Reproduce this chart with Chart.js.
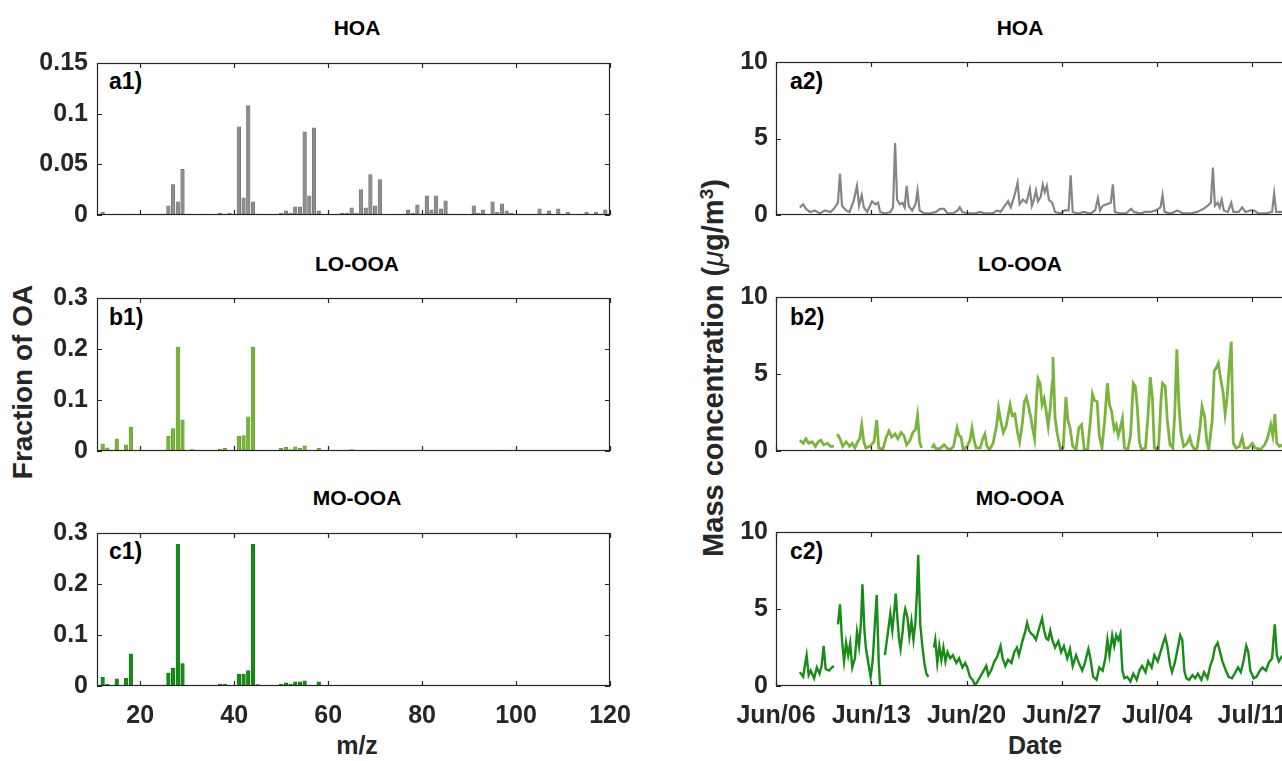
<!DOCTYPE html>
<html>
<head>
<meta charset="utf-8">
<script src="https://cdn.jsdelivr.net/npm/chart.js@4"></script>
<style>
  html, body { margin: 0; padding: 0; background: #fff; overflow: hidden; }
  body { width: 1282px; height: 761px; position: relative; font-family: "Liberation Sans", Arial, sans-serif; }
  canvas { position: absolute; }
  .txt { position: absolute; font-weight: bold; color: #000; white-space: nowrap; transform: translate(-50%, -50%); }
  .title { font-size: 21px; }
  .tag { font-size: 23px; transform: translate(0, -50%); }
  .axlab { font-size: 25px; color: #262626; }
  .rot { transform: translate(-50%, -50%) rotate(-90deg); font-size: 28px; }
</style>
</head>
<body>

<div class="txt title" style="left:357px; top:28px">HOA</div>
<div class="txt title" style="left:357px; top:264px">LO-OOA</div>
<div class="txt title" style="left:357px; top:498px">MO-OOA</div>
<div class="txt title" style="left:1020px; top:28px">HOA</div>
<div class="txt title" style="left:1020px; top:264px">LO-OOA</div>
<div class="txt title" style="left:1020px; top:498px">MO-OOA</div>

<div class="txt tag" style="left:109px; top:81px">a1)</div>
<div class="txt tag" style="left:109px; top:317px">b1)</div>
<div class="txt tag" style="left:109px; top:551px">c1)</div>
<div class="txt tag" style="left:790px; top:81px">a2)</div>
<div class="txt tag" style="left:790px; top:317px">b2)</div>
<div class="txt tag" style="left:790px; top:551px">c2)</div>

<div class="txt axlab rot" style="left:23px; top:382px">Fraction of OA</div>
<div class="txt axlab rot" style="left:713px; top:368px; font-size:29px">Mass concentration (<i style="font-weight:normal">&mu;</i>g/m<sup style="font-size:19px">3</sup>)</div>
<div class="txt axlab" style="left:357px; top:745px">m/z</div>
<div class="txt axlab" style="left:1035px; top:745px">Date</div>

<canvas id="a1"></canvas>
<canvas id="b1"></canvas>
<canvas id="c1"></canvas>
<canvas id="a2"></canvas>
<canvas id="b2"></canvas>
<canvas id="c2"></canvas>

<script>
// ---- mass spectra (fraction of OA per m/z) ----
const hoaMz   = [12, 15, 18, 25, 26, 27, 28, 29, 30, 31, 36, 37, 38, 39, 41, 42, 43, 44, 45, 50, 51, 52, 53, 54, 55, 56, 57, 58, 60, 62, 63, 64, 65, 66, 67, 68, 69, 70, 71, 72, 77, 78, 79, 80, 81, 82, 83, 84, 85, 86, 91, 92, 93, 95, 96, 97, 98, 99, 105, 107, 109, 111, 115, 117, 119];
const hoaFrac = [0.003, 0.001, 0.001, 0.001, 0.009, 0.030, 0.013, 0.045, 0.001, 0.001, 0.001, 0.002, 0.001, 0.002, 0.087, 0.017, 0.108, 0.013, 0.001, 0.002, 0.004, 0.002, 0.008, 0.008, 0.082, 0.019, 0.086, 0.004, 0.001, 0.001, 0.002, 0.002, 0.007, 0.002, 0.025, 0.007, 0.040, 0.009, 0.035, 0.001, 0.005, 0.002, 0.010, 0.001, 0.019, 0.005, 0.019, 0.006, 0.014, 0.001, 0.009, 0.002, 0.005, 0.013, 0.003, 0.011, 0.004, 0.002, 0.006, 0.004, 0.006, 0.003, 0.003, 0.003, 0.005];

const looMz   = [12, 13, 15, 17, 18, 25, 26, 27, 28, 29, 31, 37, 38, 41, 42, 43, 44, 45, 50, 51, 52, 53, 54, 55, 56, 58, 64, 65, 67, 69, 77, 79, 80, 95, 97];
const looFrac = [0.014, 0.006, 0.024, 0.012, 0.047, 0.002, 0.029, 0.044, 0.204, 0.061, 0.003, 0.004, 0.005, 0.029, 0.030, 0.067, 0.204, 0.002, 0.005, 0.007, 0.003, 0.008, 0.005, 0.010, 0.002, 0.005, 0.002, 0.003, 0.002, 0.002, 0.002, 0.002, 0.002, 0.001, 0.002];

const mooMz   = [12, 13, 15, 17, 18, 25, 26, 27, 28, 29, 31, 37, 38, 41, 42, 43, 44, 45, 50, 51, 52, 53, 54, 55, 58, 64, 65, 67, 81, 96];
const mooFrac = [0.017, 0.004, 0.014, 0.015, 0.063, 0.002, 0.026, 0.035, 0.278, 0.044, 0.002, 0.004, 0.004, 0.023, 0.023, 0.030, 0.278, 0.003, 0.004, 0.006, 0.004, 0.008, 0.008, 0.010, 0.008, 0.002, 0.002, 0.001, 0.001, 0.001];

const mzTicks = [20, 40, 60, 80, 100, 120];

// ---- time series: [days since Jun/06, concentration in ug/m3], null = no data ----
const hoaSeries = [[1.75,0.5],[2.0,0.7],[2.2,0.4],[2.5,0.2],[2.85,0.3],[3.2,0.1],[3.6,0.3],[4.0,0.2],[4.25,0.4],[4.55,0.8],[4.7,2.7],[4.85,0.6],[5.15,0.3],[5.4,0.2],[5.7,0.9],[5.95,1.9],[6.1,0.6],[6.3,1.3],[6.45,0.5],[6.7,0.2],[7.05,0.9],[7.3,0.7],[7.5,0.8],[7.65,0.2],[8.0,0.1],[8.4,0.2],[8.6,0.5],[8.75,4.7],[8.9,1.0],[9.1,0.7],[9.3,0.8],[9.45,0.5],[9.6,1.9],[9.75,0.6],[10.0,0.3],[10.25,0.7],[10.4,1.6],[10.55,0.3],[10.9,0.1],[11.3,0.1],[11.75,0.2],[12.05,0.4],[12.35,0.4],[12.6,0.1],[13.0,0.1],[13.35,0.3],[13.5,0.5],[13.7,0.2],[14.1,0.1],[14.6,0.1],[15.0,0.2],[15.4,0.1],[15.9,0.1],[16.25,0.3],[16.5,0.2],[16.8,0.6],[17.05,0.9],[17.25,0.5],[17.5,1.2],[17.75,2.1],[17.9,0.7],[18.15,1.0],[18.4,0.8],[18.65,1.7],[18.8,0.6],[18.95,1.0],[19.1,1.6],[19.25,0.9],[19.45,1.2],[19.6,2.0],[19.75,1.5],[19.9,1.9],[20.05,1.0],[20.3,0.8],[20.5,0.2],[20.9,0.1],[21.2,0.3],[21.5,0.3],[21.65,2.6],[21.8,0.2],[22.2,0.1],[22.6,0.2],[23.1,0.1],[23.45,0.3],[23.65,1.1],[23.8,0.3],[24.0,0.6],[24.3,0.7],[24.6,0.8],[24.75,2.0],[24.9,0.2],[25.3,0.1],[25.7,0.1],[26.1,0.4],[26.3,0.2],[26.8,0.1],[27.1,0.2],[27.5,0.2],[27.9,0.3],[28.25,0.5],[28.4,1.3],[28.55,0.2],[29.0,0.1],[29.5,0.3],[29.9,0.1],[30.4,0.1],[30.95,0.2],[31.4,0.4],[31.7,0.6],[31.95,0.8],[32.1,3.1],[32.25,0.6],[32.45,0.8],[32.6,0.5],[32.75,1.0],[32.9,0.3],[33.2,0.2],[33.45,0.8],[33.6,0.2],[34.0,0.2],[34.25,0.5],[34.5,0.2],[34.85,0.3],[35.1,0.3],[35.45,0.1],[35.95,0.1],[36.45,0.2],[36.6,1.4],[36.75,0.2],[37.2,0.2],[37.8,0.3]];

const looSeries = [[1.75,0.7],[2.0,0.5],[2.2,0.8],[2.4,0.5],[2.65,0.6],[2.9,0.3],[3.1,0.6],[3.3,0.7],[3.5,0.4],[3.8,0.5],[4.0,0.3],[4.25,0.3],[4.4,null],[4.5,1.1],[4.7,0.8],[4.9,0.3],[5.15,0.6],[5.4,0.3],[5.6,0.5],[5.8,0.2],[6.0,0.6],[6.15,0.8],[6.3,1.7],[6.45,0.6],[6.6,0.2],[6.9,0.3],[7.2,0.6],[7.4,2.0],[7.55,0.2],[7.85,0.1],[8.1,0.9],[8.3,1.3],[8.5,0.9],[8.75,1.1],[8.95,0.8],[9.2,1.2],[9.4,1.0],[9.6,0.4],[9.85,0.7],[10.05,1.2],[10.25,1.4],[10.4,2.3],[10.55,0.6],[10.7,0.2],[11.0,null],[11.45,0.2],[11.6,0.4],[11.8,0.1],[12.1,0.2],[12.35,0.4],[12.55,0.2],[12.8,0.1],[13.05,0.3],[13.3,1.5],[13.45,1.0],[13.6,0.9],[13.75,0.1],[14.05,0.3],[14.25,0.7],[14.4,1.5],[14.55,0.7],[14.7,0.2],[15.0,0.2],[15.2,0.8],[15.35,1.1],[15.5,0.3],[15.7,0.1],[15.95,0.5],[16.2,1.6],[16.35,2.8],[16.5,2.0],[16.7,1.2],[16.9,1.6],[17.05,2.3],[17.2,3.0],[17.35,2.3],[17.55,2.4],[17.75,1.2],[17.9,0.6],[18.1,1.8],[18.25,3.2],[18.4,3.5],[18.55,2.9],[18.7,2.3],[18.85,1.5],[19.0,0.8],[19.15,3.5],[19.25,4.7],[19.4,4.4],[19.55,3.0],[19.7,3.4],[19.85,2.6],[20.0,1.6],[20.15,2.8],[20.3,4.5],[20.35,6.1],[20.5,2.2],[20.65,1.2],[20.9,0.1],[21.1,0.2],[21.3,3.5],[21.45,2.0],[21.6,1.5],[21.8,0.3],[22.05,0.1],[22.25,1.5],[22.45,1.7],[22.65,0.1],[22.9,0.1],[23.1,2.0],[23.25,3.7],[23.4,3.3],[23.6,3.2],[23.75,1.0],[23.95,0.2],[24.15,2.0],[24.35,4.4],[24.5,3.0],[24.65,2.6],[24.85,1.4],[25.0,1.7],[25.15,1.0],[25.3,1.5],[25.45,2.1],[25.6,0.2],[25.85,0.1],[26.05,1.0],[26.25,4.4],[26.4,4.2],[26.55,2.8],[26.7,0.6],[26.85,0.1],[27.15,0.2],[27.35,2.5],[27.5,4.8],[27.65,3.5],[27.8,0.2],[28.1,0.1],[28.3,3.5],[28.4,4.4],[28.6,4.2],[28.75,2.0],[28.95,0.4],[29.15,0.2],[29.3,2.5],[29.45,6.6],[29.6,3.0],[29.75,1.2],[29.95,0.3],[30.2,0.5],[30.4,0.9],[30.55,0.4],[30.75,0.1],[30.95,0.2],[31.15,1.5],[31.3,2.9],[31.5,2.2],[31.65,0.6],[31.8,0.1],[32.05,2.0],[32.2,5.2],[32.35,5.4],[32.5,5.7],[32.65,4.8],[32.85,3.8],[33.0,2.4],[33.15,3.5],[33.3,5.5],[33.45,7.1],[33.6,0.5],[33.8,0.2],[34.05,0.3],[34.25,0.9],[34.4,0.2],[34.7,0.2],[35.0,0.5],[35.2,0.2],[35.6,0.1],[35.9,0.4],[36.1,0.8],[36.35,1.7],[36.5,1.0],[36.65,2.4],[36.8,0.5],[37.0,0.3],[37.4,0.5],[37.8,0.4]];

const mooSeries = [[1.75,0.9],[2.0,0.6],[2.1,1.2],[2.25,2.0],[2.4,0.7],[2.55,1.0],[2.8,0.5],[3.0,1.2],[3.2,0.8],[3.35,1.3],[3.5,2.6],[3.65,1.1],[3.9,1.0],[4.1,1.2],[4.25,1.3],[4.4,null],[4.55,4.0],[4.7,5.3],[4.85,3.0],[5.0,1.6],[5.15,2.8],[5.3,2.0],[5.45,2.8],[5.6,1.2],[5.8,1.8],[5.95,3.5],[6.1,2.6],[6.25,4.2],[6.35,6.6],[6.5,3.6],[6.6,2.5],[6.8,1.4],[6.95,0.6],[7.1,1.6],[7.25,3.8],[7.4,5.9],[7.55,1.5],[7.65,0.0],[7.8,null],[8.0,2.0],[8.15,3.0],[8.3,4.0],[8.4,4.7],[8.55,3.6],[8.7,5.0],[8.8,6.0],[8.95,4.0],[9.05,3.0],[9.15,2.4],[9.3,3.5],[9.4,4.5],[9.5,5.0],[9.65,4.5],[9.8,3.2],[9.95,4.2],[10.1,3.0],[10.25,4.2],[10.35,6.0],[10.45,8.5],[10.6,4.0],[10.75,2.6],[10.9,1.5],[11.05,0.8],[11.2,0.6],[11.4,null],[11.6,2.5],[11.7,3.0],[11.85,1.5],[12.0,2.6],[12.15,1.7],[12.3,2.5],[12.45,1.6],[12.6,2.2],[12.8,1.8],[13.0,2.0],[13.25,1.5],[13.45,1.8],[13.7,1.2],[13.9,1.5],[14.05,1.2],[14.25,0.6],[14.45,0.4],[14.6,0.1],[14.75,0.2],[15.0,0.6],[15.2,0.9],[15.45,1.3],[15.6,0.7],[15.8,1.0],[16.05,1.6],[16.25,1.9],[16.5,2.6],[16.65,1.8],[16.85,1.3],[17.05,1.7],[17.3,1.5],[17.5,2.2],[17.7,2.5],[17.85,2.0],[18.1,2.9],[18.3,3.5],[18.45,4.1],[18.6,3.6],[18.75,3.4],[18.9,3.3],[19.1,3.0],[19.35,3.8],[19.55,4.4],[19.7,3.6],[19.85,3.1],[20.0,3.0],[20.15,3.6],[20.3,3.0],[20.5,2.5],[20.75,2.9],[20.95,2.2],[21.15,2.6],[21.4,1.8],[21.6,2.4],[21.8,1.3],[22.05,2.0],[22.25,1.5],[22.5,1.0],[22.7,1.5],[22.95,2.4],[23.1,1.8],[23.3,0.6],[23.55,0.4],[23.75,1.2],[24.0,1.0],[24.2,1.8],[24.35,3.0],[24.5,2.0],[24.7,3.3],[24.85,2.6],[25.0,3.3],[25.15,3.0],[25.3,3.4],[25.45,1.0],[25.6,0.5],[25.8,0.6],[26.05,0.3],[26.25,0.8],[26.5,0.4],[26.7,1.0],[26.9,1.3],[27.15,0.9],[27.35,1.6],[27.6,1.2],[27.8,2.0],[28.05,1.6],[28.25,2.2],[28.45,2.8],[28.6,3.2],[28.75,2.6],[28.95,1.4],[29.1,0.9],[29.3,1.5],[29.55,2.6],[29.7,3.3],[29.85,3.0],[30.0,1.0],[30.15,0.5],[30.35,0.4],[30.6,0.7],[30.8,0.5],[31.0,0.8],[31.25,0.4],[31.45,0.9],[31.7,0.5],[31.9,1.3],[32.1,1.8],[32.25,2.5],[32.45,2.8],[32.6,2.3],[32.8,1.6],[33.05,1.0],[33.25,0.6],[33.5,0.5],[33.7,0.8],[33.95,1.2],[34.15,0.9],[34.35,1.6],[34.55,2.6],[34.7,2.2],[34.85,1.0],[35.1,0.5],[35.3,0.6],[35.55,1.0],[35.75,1.2],[36.0,1.0],[36.2,1.5],[36.45,1.8],[36.55,3.0],[36.65,4.0],[36.8,2.0],[36.95,1.6],[37.15,1.9],[37.5,2.2],[37.85,1.8]];

const dateTicks  = [0, 7, 14, 21, 28, 35];
const dateLabels = ["Jun/06", "Jun/13", "Jun/20", "Jun/27", "Jul/04", "Jul/11"];

Chart.defaults.font.family = "'Liberation Sans', Arial, sans-serif";
Chart.defaults.font.size   = 25;
Chart.defaults.font.weight = "bold";
Chart.defaults.color       = "#262626";
Chart.defaults.animation   = false;

// box around the axes with inward tick marks on all four sides
const boxTicks = {
    id: "boxTicks",
    afterDatasetsDraw(chart) {
        const { ctx, chartArea: a, scales: { x, y } } = chart;
        ctx.save();
        ctx.strokeStyle = "#262626";
        ctx.lineWidth = 1.2;
        ctx.strokeRect(a.left + 0.5, a.top + 0.5, a.width - 1, a.height - 1);
        ctx.beginPath();
        x.ticks.forEach(t => {
            const px = Math.round(x.getPixelForValue(t.value)) + 0.5;
            ctx.moveTo(px, a.top);    ctx.lineTo(px, a.top + 5);
            ctx.moveTo(px, a.bottom); ctx.lineTo(px, a.bottom - 5);
        });
        y.ticks.forEach(t => {
            const py = Math.round(y.getPixelForValue(t.value)) + 0.5;
            ctx.moveTo(a.left, py);  ctx.lineTo(a.left + 5, py);
            ctx.moveTo(a.right, py); ctx.lineTo(a.right - 5, py);
        });
        ctx.stroke();
        ctx.restore();
    }
};

// place a canvas so that its plot area sits at (plotLeft, plotTop) with the given size
function place(id, plotLeft, plotTop, plotW, plotH, axisW, padR) {
    const c = document.getElementById(id);
    const w = axisW + plotW + padR, h = 10 + plotH + 46;
    c.width = w; c.height = h;
    c.style.left = (plotLeft - axisW) + "px";
    c.style.top  = (plotTop - 10) + "px";
    return c;
}

function fixedTicks(values) {
    return scale => { scale.ticks = values.map(v => ({ value: v })); };
}

// keep the full plot width: no inner padding for overhanging end labels
function fitX(s) {
    s.height = 46;
    s.paddingLeft = 0;
    s.paddingRight = 0;
}

function spectrum(id, plotTop, plotH, mz, frac, color, edge, yMax, yTicks, showX) {
    const c = place(id, 97, plotTop, 513, plotH, 97, 34);
    new Chart(c, {
        type: "bar",
        data: {
            datasets: [{
                data: mz.map((m, i) => ({ x: m, y: frac[i] })),
                backgroundColor: color,
                borderColor: edge,
                borderWidth: 0.6,
                barThickness: 3.6
            }]
        },
        options: {
            responsive: false,
            layout: { padding: { top: 10, right: 34, left: 0, bottom: 0 } },
            plugins: { legend: { display: false }, tooltip: { enabled: false } },
            scales: {
                x: {
                    type: "linear", min: 10.8, max: 120, offset: false,
                    grid: { display: false, drawTicks: false, offset: false }, border: { display: false },
                    afterBuildTicks: fixedTicks(mzTicks),
                    afterFit: fitX,
                    ticks: { display: showX, padding: 15, maxRotation: 0 }
                },
                y: {
                    min: 0, max: yMax,
                    grid: { display: false, drawTicks: false }, border: { display: false },
                    afterBuildTicks: fixedTicks(yTicks),
                    afterFit: s => { s.width = 97; },
                    ticks: { padding: 9, callback: v => String(v) }
                }
            }
        },
        plugins: [boxTicks]
    });
}

function timeline(id, plotTop, plotH, series, color, width, showX) {
    const c = place(id, 776, plotTop, 524, plotH, 100, 16);
    new Chart(c, {
        type: "line",
        data: {
            datasets: [{
                data: series.map(p => ({ x: p[0], y: p[1] })),
                borderColor: color,
                borderWidth: width,
                pointRadius: 0,
                tension: 0,
                spanGaps: false
            }]
        },
        options: {
            responsive: false,
            layout: { padding: { top: 10, right: 16, left: 0, bottom: 0 } },
            plugins: { legend: { display: false }, tooltip: { enabled: false } },
            scales: {
                x: {
                    type: "linear", min: 0, max: 38.5,
                    grid: { display: false, drawTicks: false }, border: { display: false },
                    afterBuildTicks: fixedTicks(dateTicks),
                    afterFit: fitX,
                    ticks: { display: showX, padding: 15, maxRotation: 0,
                             callback: v => dateLabels[dateTicks.indexOf(v)] }
                },
                y: {
                    min: 0, max: 10,
                    grid: { display: false, drawTicks: false }, border: { display: false },
                    afterBuildTicks: fixedTicks([0, 5, 10]),
                    afterFit: s => { s.width = 100; },
                    ticks: { padding: 8 }
                }
            }
        },
        plugins: [boxTicks]
    });
}

spectrum("a1", 49, 166, hoaMz, hoaFrac, "#8e8e8e", "#6f6f6f", 0.15, [0, 0.05, 0.1, 0.15], false);
spectrum("b1", 284, 167, looMz, looFrac, "#79b53d", "#5f9a28", 0.3, [0, 0.1, 0.2, 0.3], false);
spectrum("c1", 519, 167, mooMz, mooFrac, "#178c17", "#0d6f0d", 0.3, [0, 0.1, 0.2, 0.3], true);

timeline("a2", 49, 166, hoaSeries, "#858585", 2.2, false);
timeline("b2", 284, 167, looSeries, "#79b53d", 2.8, false);
timeline("c2", 519, 167, mooSeries, "#178c17", 2.4, true);
</script>
</body>
</html>
